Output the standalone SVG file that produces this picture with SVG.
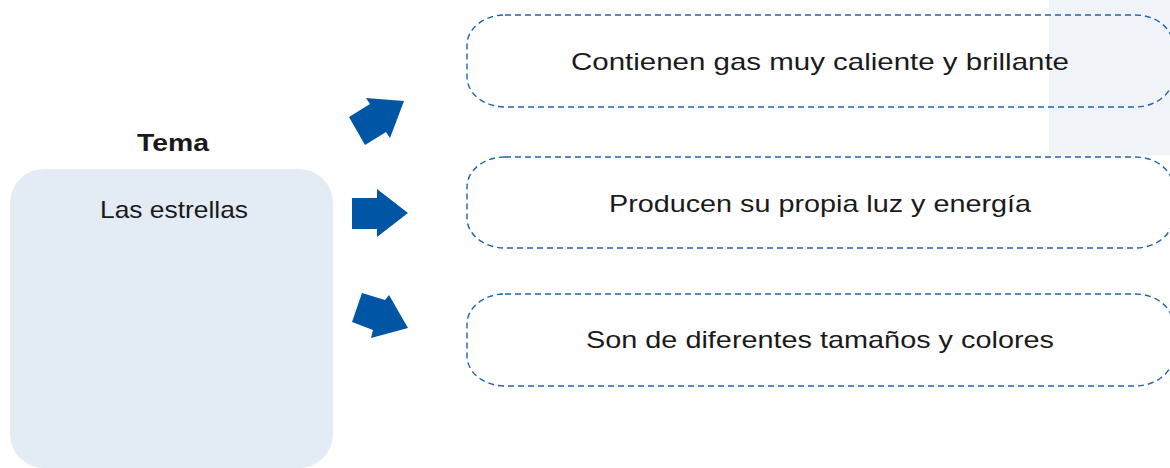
<svg xmlns="http://www.w3.org/2000/svg" width="1170" height="468" viewBox="0 0 1170 468">
  <style>
    .box { fill: none; stroke: #1f63b0; stroke-width: 1.4; stroke-dasharray: 6 4; }
    .txt { font-family: "Liberation Sans", Arial, sans-serif; font-size: 24px; fill: #1a1a1a; text-anchor: middle; }
    .arrow { fill: #0055a4; }
  </style>
  <rect x="0" y="0" width="1170" height="468" fill="#ffffff"/>
  <rect x="1049" y="0" width="121" height="155" fill="#f0f4f9"/>

  <g id="tema">
    <rect x="10" y="169" width="323" height="299" rx="34" ry="34" fill="#e3ebf4"/>
    <text x="173" y="151" class="txt" font-weight="bold" font-size="23" textLength="72" lengthAdjust="spacingAndGlyphs">Tema</text>
    <text x="174" y="218" class="txt" textLength="148" lengthAdjust="spacingAndGlyphs">Las estrellas</text>
  </g>

  <g id="node1">
    <rect x="467" y="15" width="706" height="92" rx="38" ry="30" class="box"/>
    <text x="820" y="70" class="txt" textLength="498" lengthAdjust="spacingAndGlyphs">Contienen gas muy caliente y brillante</text>
  </g>
  <g id="node2">
    <rect x="467" y="157" width="706" height="91" rx="38" ry="30" class="box"/>
    <text x="820" y="212" class="txt" textLength="422" lengthAdjust="spacingAndGlyphs">Producen su propia luz y energía</text>
  </g>
  <g id="node3">
    <rect x="467" y="294" width="706" height="92" rx="38" ry="30" class="box"/>
    <text x="820" y="348" class="txt" textLength="468" lengthAdjust="spacingAndGlyphs">Son de diferentes tamaños y colores</text>
  </g>

  <g id="connectors">
    <polygon class="arrow" points="349,117 370,104 366,98 404,101 390,138 386,132 365,145"/>
    <polygon class="arrow" points="352,198 377,198 377,189 408,213 377,237 377,229 352,229"/>
    <polygon class="arrow" points="362,293 385,300 389,295 408,328 371,338 373,330 352,322"/>
  </g>
</svg>
